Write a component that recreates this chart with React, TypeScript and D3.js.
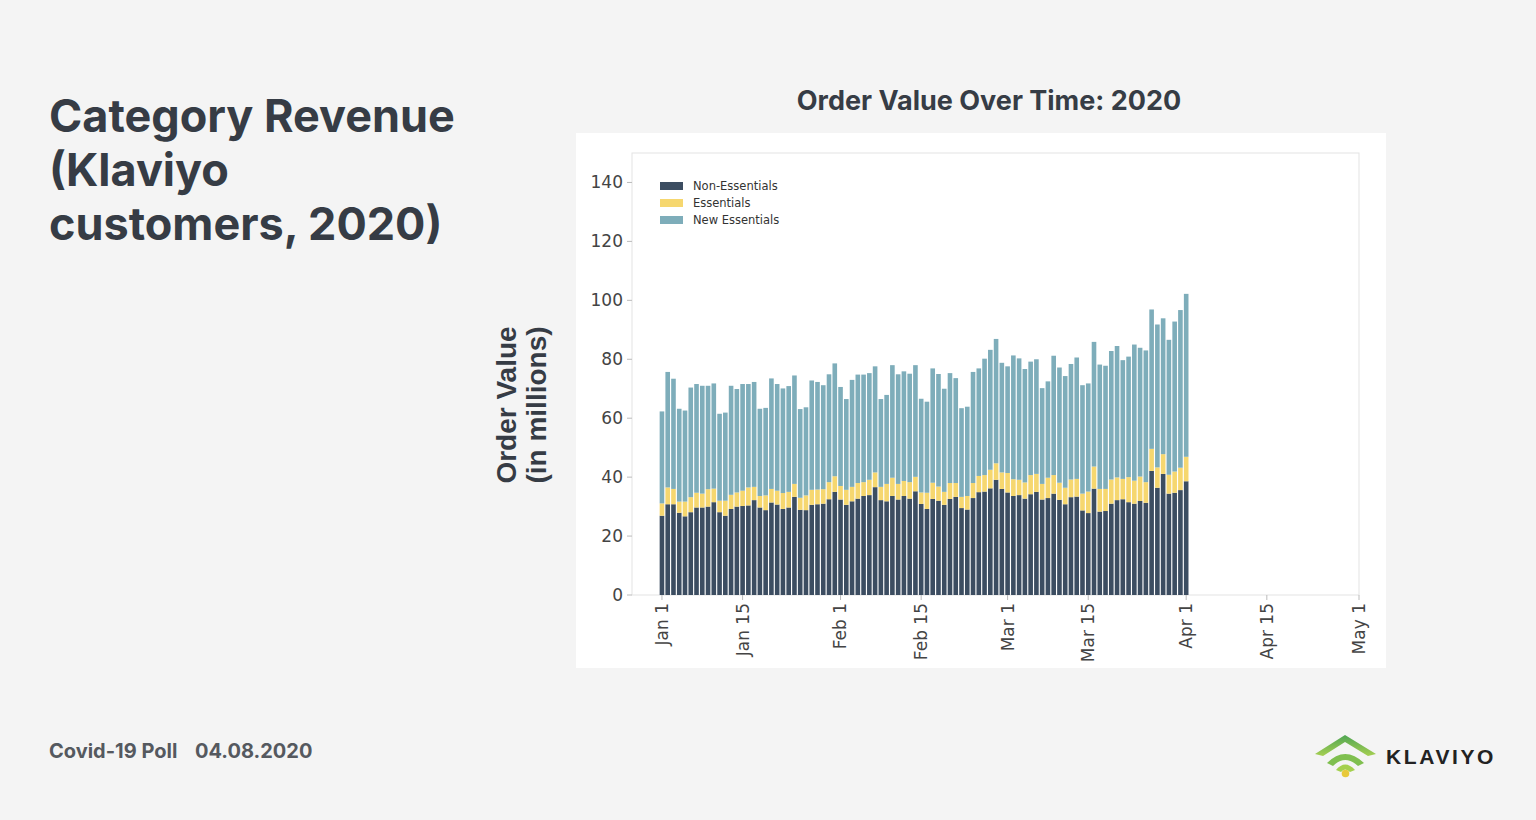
import React from "react";
import * as d3 from "d3";

// daily order value, Jan 1 - Apr 1 2020 (in millions)
const nonEssentials = [
  26.9, 30.8, 30.8, 27.9, 26.7, 28.1, 29.7, 29.7, 30.0, 31.5, 28.1, 26.9, 29.2, 30.0, 30.2, 30.4,
  32.2, 29.7, 28.8, 31.4, 30.7, 29.2, 29.7, 33.3, 28.9, 28.8, 30.6, 30.8, 31.0, 32.5, 35.0, 32.4,
  30.6, 31.8, 32.7, 33.6, 33.9, 36.6, 32.2, 31.8, 33.6, 32.4, 33.6, 32.7, 35.2, 30.9, 29.2, 32.6,
  32.0, 30.6, 32.6, 33.3, 29.5, 29.0, 32.9, 34.9, 35.1, 36.2, 39.1, 36.0, 34.8, 33.6, 33.9, 32.7,
  34.2, 35.0, 32.4, 32.9, 34.4, 32.3, 30.8, 33.2, 33.4, 28.7, 27.8, 36.1, 28.3, 28.5, 31.0, 32.2,
  32.5, 31.5, 31.0, 31.9, 31.3, 42.1, 36.4, 41.1, 34.4, 34.7, 35.6, 38.6,
];
const essentials = [
  4.2, 5.7, 5.2, 3.8, 5.0, 5.1, 5.0, 4.7, 5.9, 4.6, 3.9, 5.1, 4.8, 4.8, 5.2, 6.1,
  4.5, 3.9, 5.0, 4.6, 4.7, 5.4, 5.3, 4.4, 4.1, 5.0, 5.1, 5.0, 4.9, 5.8, 5.3, 4.6,
  5.1, 4.9, 5.3, 4.7, 5.2, 5.0, 4.5, 5.9, 6.2, 5.3, 5.1, 5.6, 4.9, 3.9, 5.5, 5.5,
  4.8, 4.4, 5.4, 4.7, 3.8, 4.6, 5.1, 5.5, 5.6, 6.3, 5.6, 5.6, 6.6, 5.7, 5.2, 5.5,
  6.5, 6.1, 5.3, 6.9, 6.3, 5.8, 5.6, 6.0, 6.0, 5.7, 7.3, 7.5, 7.7, 7.5, 8.2, 7.7,
  6.9, 8.5, 7.8, 8.3, 7.0, 7.5, 6.9, 6.7, 6.4, 7.2, 7.6, 8.3,
];
const newEssentials = [
  31.2, 39.2, 37.4, 31.5, 30.9, 37.2, 36.9, 36.6, 35.1, 35.7, 29.5, 29.9, 37.0, 35.1, 36.2, 35.1,
  35.6, 29.6, 29.7, 37.5, 36.2, 35.5, 35.9, 36.8, 30.1, 29.9, 37.1, 36.5, 35.3, 36.6, 38.3, 33.6,
  30.8, 36.3, 36.8, 36.5, 36.2, 36.0, 29.8, 30.2, 38.2, 37.2, 37.2, 36.8, 37.9, 31.8, 30.9, 38.8,
  38.2, 35.0, 37.3, 35.6, 30.1, 30.3, 37.7, 36.5, 39.5, 40.7, 42.2, 37.2, 36.2, 42.0, 41.2, 38.5,
  38.5, 38.9, 32.5, 32.7, 40.5, 39.1, 37.9, 39.2, 41.2, 36.8, 36.7, 42.3, 42.2, 41.8, 43.6, 44.6,
  40.3, 40.9, 46.2, 43.7, 44.7, 47.3, 48.5, 46.1, 45.8, 50.9, 53.5, 55.3,
];

const seriesNames = ["Non-Essentials", "Essentials", "New Essentials"];
const seriesColors = ["#3c4d61", "#f6d76f", "#7eadba"];
const yTicks = [0, 20, 40, 60, 80, 100, 120, 140];
const xTickDates = [
  "2020-01-01", "2020-01-15", "2020-02-01", "2020-02-15", "2020-03-01",
  "2020-03-15", "2020-04-01", "2020-04-15", "2020-05-01",
];
const titleLines = ["Category Revenue", "(Klaviyo", "customers, 2020)"];

const startDate = new Date(Date.UTC(2020, 0, 1));
const DAY = 86400000;

export default function App() {
  const left = 632, right = 1359, top = 153, bottom = 595;

  const rows = nonEssentials.map((v, i) => ({
    date: new Date(startDate.getTime() + i * DAY),
    [seriesNames[0]]: v,
    [seriesNames[1]]: essentials[i],
    [seriesNames[2]]: newEssentials[i],
  }));
  const stacked = d3.stack<any>().keys(seriesNames)(rows);

  const x = d3
    .scaleUtc()
    .domain([new Date(startDate.getTime() - 5.2 * DAY), new Date(Date.UTC(2020, 4, 1))])
    .range([left, right]);
  const y = d3.scaleLinear().domain([0, 150]).range([bottom, top]);
  const color = d3.scaleOrdinal<string>().domain(seriesNames).range(seriesColors);
  const barW = (x(new Date(startDate.getTime() + DAY)) - x(startDate)) * 0.8;
  const fmt = d3.utcFormat("%b %-d");
  const tickFont = "'DejaVu Sans', sans-serif";

  return (
    <svg
      width={1536}
      height={820}
      style={{ position: "absolute", left: 0, top: 0, background: "#f4f4f4" }}
    >
      <rect width={1536} height={820} fill="#f4f4f4" />
      {titleLines.map((t, i) => (
        <text
          key={t}
          x={49}
          y={132 + i * 54}
          fontFamily="Inter, sans-serif"
          fontWeight={700}
          fontSize={45}
          fill="#363c45"
        >
          {t}
        </text>
      ))}
      <text x={49} y={758} fontFamily="Inter, sans-serif" fontWeight={700} fontSize={20} fill="#55595f">
        Covid-19 Poll
        <tspan x={195}>04.08.2020</tspan>
      </text>

      <text
        x={989}
        y={110}
        textAnchor="middle"
        fontFamily="Inter, sans-serif"
        fontWeight={700}
        fontSize={27}
        fill="#363c45"
      >
        Order Value Over Time: 2020
      </text>

      <rect x={576} y={133} width={810} height={535} fill="#ffffff" />
      <rect x={left} y={top} width={right - left} height={bottom - top} fill="none" stroke="#e3e3e3" />

      {stacked.map((s) => (
        <g key={s.key} fill={color(s.key)}>
          {s.map((d, i) => (
            <rect
              key={i}
              x={x(d.data.date) - barW / 2}
              y={y(d[1])}
              width={barW}
              height={y(d[0]) - y(d[1])}
            />
          ))}
        </g>
      ))}

      {yTicks.map((t) => (
        <g key={t}>
          <line x1={left - 5} x2={left} y1={y(t)} y2={y(t)} stroke="#bbbbbb" />
          <text
            x={left - 9}
            y={y(t)}
            dy="0.35em"
            textAnchor="end"
            fontFamily={tickFont}
            fontSize={17}
            fill="#444"
          >
            {t}
          </text>
        </g>
      ))}

      {xTickDates.map((s) => {
        const dt = new Date(s + "T00:00:00Z");
        const px = x(dt);
        return (
          <g key={s}>
            <line x1={px} x2={px} y1={bottom} y2={bottom + 5} stroke="#bbbbbb" />
            <text
              transform={`translate(${px},${bottom + 8}) rotate(-90)`}
              dy="0.35em"
              textAnchor="end"
              fontFamily={tickFont}
              fontSize={17}
              fill="#444"
            >
              {fmt(dt)}
            </text>
          </g>
        );
      })}

      <text
        transform="translate(516,405) rotate(-90)"
        textAnchor="middle"
        fontFamily="'Liberation Sans', Arial, sans-serif"
        fontWeight={700}
        fontSize={28}
        fill="#363c45"
      >
        Order Value
      </text>
      <text
        transform="translate(546,405) rotate(-90)"
        textAnchor="middle"
        fontFamily="'Liberation Sans', Arial, sans-serif"
        fontWeight={700}
        fontSize={28}
        fill="#363c45"
      >
        (in millions)
      </text>

      {seriesNames.map((n, i) => (
        <g key={n} transform={`translate(660,${186 + i * 17})`}>
          <rect x={0} y={-4} width={23} height={8} fill={color(n)} />
          <text x={33} dy="0.35em" fontFamily={tickFont} fontSize={11.5} fill="#333">
            {n}
          </text>
        </g>
      ))}

      <defs>
        <linearGradient id="kgreen" x1="0" y1="0" x2="0" y2="1">
          <stop offset="0" stopColor="#4fa553" />
          <stop offset="1" stopColor="#a6cf52" />
        </linearGradient>
      </defs>
      <g>
        <path d="M1315,754 L1345,735 L1376,754 L1368,756 L1345,742 L1323,756 Z" fill="url(#kgreen)" />
        <path d="M1327,763 Q1345,745 1364,763 L1358,766 Q1345,754 1333,766 Z" fill="#7fbf4f" />
        <path d="M1336,770 Q1345,759 1355,770 L1350,772 Q1345,767 1341,772 Z" fill="#a4d04e" />
        <circle cx={1345.5} cy={773.5} r={3.8} fill="#e8c93a" />
        <text
          x={1386}
          y={764}
          fontFamily="'Liberation Sans', Arial, sans-serif"
          fontWeight={700}
          fontSize={21}
          letterSpacing={2.6}
          fill="#222"
        >
          KLAVIYO
        </text>
      </g>
    </svg>
  );
}
